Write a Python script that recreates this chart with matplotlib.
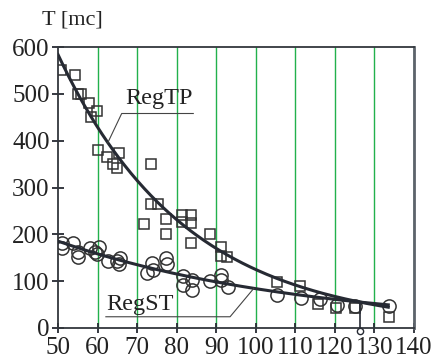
import numpy as np
import matplotlib
matplotlib.use("Agg")
import matplotlib.pyplot as plt

# ---- data ----
tp_x = [50.8, 54.2, 55.0, 55.8, 57.9, 58.3, 59.8, 60.0, 62.5, 64.0, 65.3, 65.0,
        73.5, 73.5, 75.3, 71.7, 77.3, 77.3, 81.4, 81.4, 83.7, 83.7, 83.7, 88.5,
        91.1, 91.1, 92.8, 105.4, 111.2, 115.8, 120.3, 125.1, 133.7]
tp_y = [550, 540, 500, 500, 480, 450, 463, 380, 365, 350, 373, 341,
        350, 264, 264, 222, 232, 201, 241, 227, 241, 224, 182, 201,
        173, 153, 151, 98, 90, 51, 42, 42, 24]

st_x = [50.9, 50.9, 53.9, 55.1, 55.1, 58.1, 60.4, 59.8, 59.4, 62.7, 64.8, 65.7,
        65.4, 72.4, 73.7, 74.1, 77.2, 77.6, 81.5, 81.5, 84.0, 83.8, 88.4, 91.1,
        91.1, 93.0, 105.4, 111.4, 116.2, 120.6, 125.0, 133.8]
st_y = [181, 170, 181, 163, 152, 170, 174, 159, 163, 142, 142, 149,
        137, 117, 138, 124, 150, 137, 112, 92, 82, 102, 100, 113,
        102, 88, 70, 63, 62, 49, 48, 48]

x_ticks = [50, 60, 70, 80, 90, 100, 110, 120, 130, 140]
y_ticks = [0, 100, 200, 300, 400, 500, 600]

# ---- exponential regressions fitted from the data (least squares in y) ----
def expfit(x, y):
    x = np.asarray(x, float)
    y = np.asarray(y, float)
    b, a = np.polyfit(x, np.log(y), 1, w=y)
    return lambda t: np.exp(a + b * np.asarray(t, float)), a, b

f_tp, a_tp, b_tp = expfit(tp_x, tp_y)
f_st, a_st, b_st = expfit(st_x, st_y)
x_cross = (a_st - a_tp) / (b_tp - b_st)

plt.rcParams['font.family'] = ['Liberation Serif', 'DejaVu Serif']
ink = '#262a33'
green = '#22b14c'
FS = 17.5

fig = plt.figure(figsize=(4.35, 3.63), dpi=100)
ax = fig.add_axes([58/435, 1-328/363, (414-58)/435, (328-47)/363])

ax.set_xlim(50, 140)
ax.set_ylim(0, 600)

for xv in x_ticks[1:]:
    ax.axvline(xv, color=green, lw=1.0, zorder=1)

xs = np.linspace(50, 133.5, 300)
ax.plot(xs, f_tp(xs), color=ink, lw=2.2, zorder=4)
ax.plot(xs, f_st(xs), color=ink, lw=2.2, zorder=4)

ax.plot(tp_x, tp_y, linestyle='none', marker='s', ms=6.5, mfc='none',
        mec='#333333', mew=1.1, zorder=3)
ax.plot(st_x, st_y, linestyle='none', marker='o', ms=9.5, mfc='none',
        mec='#333333', mew=1.1, zorder=3)

# intersection marker
yc = float(f_tp(x_cross))
ax.plot([x_cross, x_cross], [yc, -6], color=ink, lw=1.2, clip_on=False, zorder=5)
ax.plot([x_cross], [-6], marker='o', ms=4.5, mfc='white', mec=ink, mew=1.0,
        clip_on=False, zorder=6)

# labels with leader lines
ax.text(66.9, 478, 'RegTP', fontsize=FS, color='#222222', ha='left',
        va='baseline', zorder=6)
ax.plot([84.2, 66.1, 62.6], [458, 458, float(f_tp(62.6))], color='#444444',
        lw=0.8, zorder=5)
ax.text(62.1, 38, 'RegST', fontsize=FS, color='#222222', ha='left',
        va='baseline', zorder=6)
ax.plot([62.1, 93.5, 99.5], [24, 24, float(f_st(99.5))], color='#444444',
        lw=0.8, zorder=5)

ax.set_xticks(x_ticks)
ax.set_yticks(y_ticks)
ax.tick_params(axis='both', direction='inout', length=9, width=1.3,
               color=ink, labelsize=18, labelcolor='#222222')
ax.tick_params(axis='y', pad=1.5)
ax.tick_params(axis='x', length=7, pad=3)

for s in ['left', 'top', 'bottom']:
    ax.spines[s].set_color('#33373d')
    ax.spines[s].set_linewidth(1.3)
ax.spines['right'].set_color('#5d636b')
ax.spines['right'].set_linewidth(2.0)

ax.text(-0.045, 1.095, 'T [mc]', transform=ax.transAxes, fontsize=16,
        color='#222222', ha='left', va='center')

fig.savefig('out.png', dpi=100)
